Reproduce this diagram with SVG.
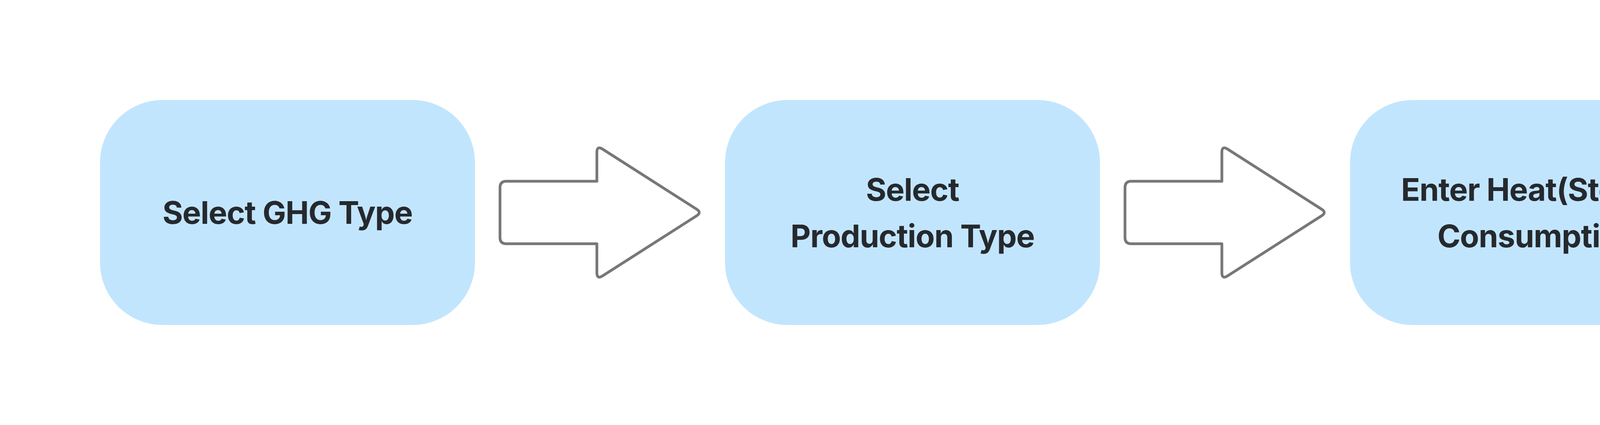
<svg xmlns="http://www.w3.org/2000/svg" width="6272" height="1088" viewBox="0 0 6272 1088">
<style>
.box{fill:#c2e5fe}
.box.end{fill:#dccdfe}
.lbl{font-family:Inter,"Noto Sans",sans-serif;font-weight:700;font-size:80px;letter-spacing:-1.2px;fill:#25292e;text-anchor:middle}
.end .lbl{fill:#2c2933}
.arrow{fill:#ffffff;stroke:#777777;stroke-width:7;stroke-linejoin:round}
</style>
<defs>
<path id="arr" d="M1296,464 L1528,464 L1528,390 Q1528,372 1543,382 L1784,536 Q1796,544 1784,552 L1543,706 Q1528,716 1528,698 L1528,624 L1296,624 Q1280,624 1280,608 L1280,480 Q1280,464 1296,464 Z"/>
</defs>
<rect width="6272" height="1088" fill="#ffffff"/>
<g id="connectors">
<use href="#arr" class="arrow"/>
<use href="#arr" class="arrow" x="1600"/>
<use href="#arr" class="arrow" x="3200"/>
</g>
<g id="node1">
<rect class="box" x="256" y="256" width="960" height="576" rx="160"/>
<text class="lbl" x="736" y="573">Select GHG Type</text>
</g>
<g id="node2">
<rect class="box" x="1856" y="256" width="960" height="576" rx="160"/>
<text class="lbl" x="2336" y="514">Select</text>
<text class="lbl" x="2336" y="633">Production Type</text>
</g>
<g id="node3">
<rect class="box" x="3456" y="256" width="960" height="576" rx="160"/>
<text class="lbl" x="3936" y="514">Enter Heat(Steam)</text>
<text class="lbl" x="3936" y="633">Consumption</text>
</g>
<g id="node4" class="end">
<rect class="box end" x="5056" y="256" width="960" height="576" rx="160"/>
<text class="lbl" x="5536" y="514">GHG Emission</text>
<text class="lbl" x="5536" y="633">Calculation</text>
</g>
</svg>
